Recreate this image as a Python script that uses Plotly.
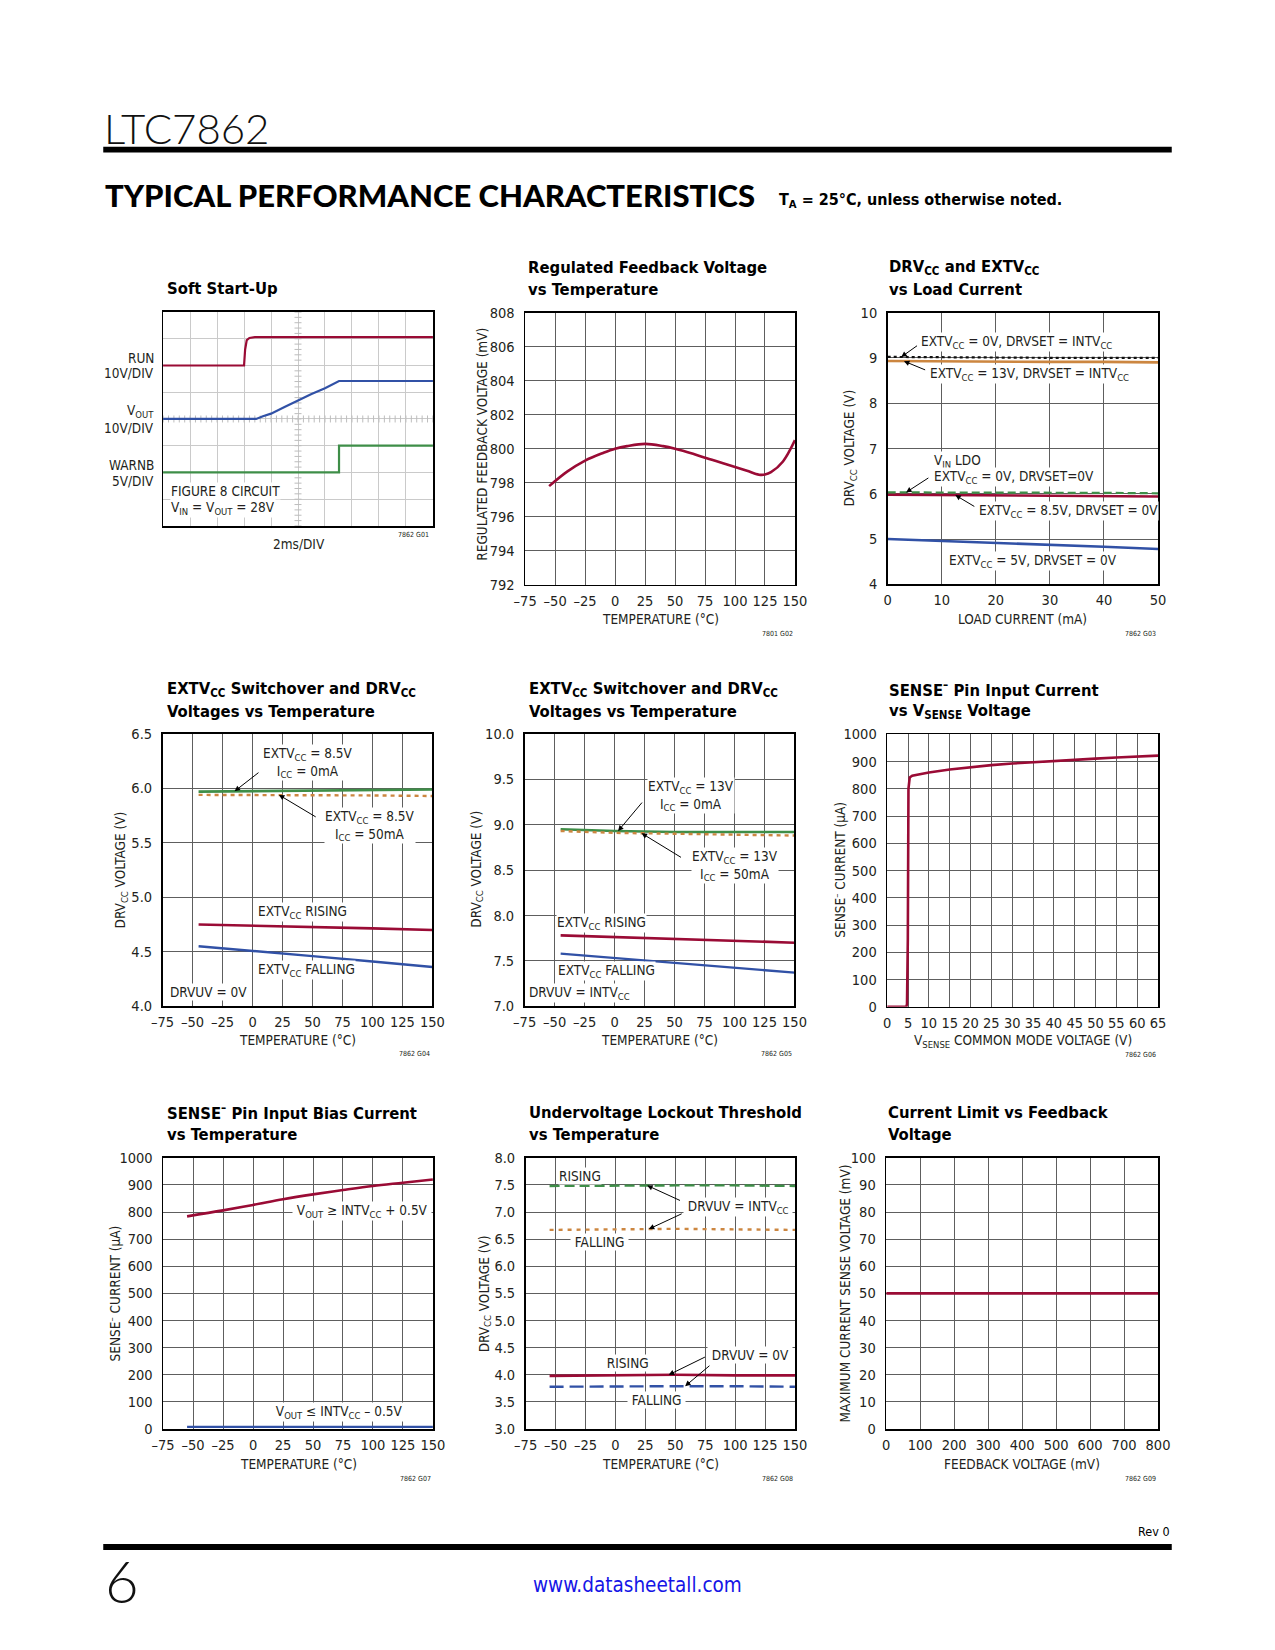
import numpy as np
import plotly.graph_objects as go

W, H = 1275, 1650


def px(x):
    return x / W


def py(y):
    return 1 - y / H


RED = "#9A0B35"
BLUE = "#3151A6"
GREEN = "#3E8E48"
ORANGE = "#CC8640"
BLACK = "#111111"
GRID = "#5e5e5e"
SCOPE_GRID = "#cacaca"
TXT = "#231f20"
FONT = "Liberation Sans Narrow, DejaVu Sans Condensed, Arial Narrow, Liberation Sans, sans-serif"

# ---------------- data ----------------
# G01 Soft Start-Up (scope divisions)
run_t = [0, 3.0, 3.04, 3.1, 3.2, 3.4, 10]
run_v = [6.0, 6.0, 6.6, 6.95, 7.03, 7.06, 7.06]
vout_t = [0, 3.45, 3.7, 4.0, 4.5, 5.0, 5.5, 6.0, 6.52, 10]
vout_v = [4.0, 4.0, 4.1, 4.2, 4.45, 4.7, 4.93, 5.15, 5.42, 5.42]
warnb_t = [0, 6.52, 6.52, 10]
warnb_v = [2.0, 2.0, 3.0, 3.0]

# G02 Regulated feedback voltage vs temperature
fb_temp = [-55, -40, -25, -10, 0, 10, 25, 40, 50, 65, 75, 90, 100, 110, 120, 125, 130, 140, 150]
fb_mv = [797.8, 798.65, 799.3, 799.75, 800.0, 800.15, 800.28, 800.15, 800.0, 799.7, 799.47,
         799.15, 798.93, 798.7, 798.47, 798.48, 798.62, 799.25, 800.5]

# G03 DRVcc vs load current
load_ma = [0, 10, 20, 30, 40, 50]
g03_ext0_int = [9.02, 9.01, 9.01, 9.0, 9.0, 9.0]
g03_ext13_int = [8.93, 8.92, 8.92, 8.91, 8.91, 8.9]
g03_vin_ldo = [6.03, 6.03, 6.02, 6.02, 6.02, 6.01]
g03_ext85 = [5.98, 5.97, 5.97, 5.96, 5.95, 5.94]
g03_ext5 = [5.0, 4.96, 4.91, 4.87, 4.83, 4.78]

# G04 EXTVcc switchover (DRVUV = 0V)
g04_temp = [-45, 0, 50, 100, 150]
g04_icc0 = [5.97, 5.975, 5.98, 5.985, 5.99]
g04_icc50 = [5.94, 5.94, 5.94, 5.935, 5.93]
g04_rise = [4.75, 4.74, 4.73, 4.715, 4.70]
g04_fall = [4.55, 4.51, 4.46, 4.41, 4.36]

# G05 EXTVcc switchover (DRVUV = INTVcc)
g05_temp = [-45, 0, 50, 100, 150]
g05_icc0 = [8.95, 8.93, 8.92, 8.92, 8.92]
g05_icc50 = [8.93, 8.91, 8.90, 8.89, 8.88]
g05_rise = [7.78, 7.76, 7.74, 7.72, 7.70]
g05_fall = [7.58, 7.53, 7.48, 7.42, 7.37]

# G06 SENSE- current vs Vsense
vsense = [0, 4.6, 4.75, 4.95, 5.1, 5.4, 6, 8, 10, 15, 20, 25, 30, 35, 40, 45, 50, 55, 60, 65]
isense = [0, 0, 10, 250, 800, 842, 848, 854, 860, 871, 880, 887, 893, 898, 903, 907, 911, 915, 918, 922]

# G07 SENSE- bias current vs temperature
g07_temp = [-55, -25, 0, 25, 50, 75, 100, 125, 150]
g07_high = [784, 806, 826, 847, 865, 881, 896, 908, 920]
g07_low = [8, 8, 8, 8, 8, 8, 8, 8, 8]

# G08 UVLO vs temperature
g08_temp = [-55, 0, 50, 100, 150]
g08_int_rise = [7.48, 7.49, 7.49, 7.49, 7.48]
g08_int_fall = [6.67, 6.68, 6.69, 6.68, 6.67]
g08_0_rise = [3.98, 3.99, 4.0, 3.99, 3.99]
g08_0_fall = [3.78, 3.79, 3.79, 3.79, 3.78]

# G09 current limit vs feedback voltage
fbv_mv = [0, 800]
ilim_mv = [50, 50]

# tick values / labels
TEMP_TICKS = [-75, -50, -25, 0, 25, 50, 75, 100, 125, 150]
TEMP_LABELS = ["–75", "–50", "–25", "0", "25", "50", "75", "100", "125", "150"]
G02_Y = [792, 794, 796, 798, 800, 802, 804, 806, 808]
G03_X = [0, 10, 20, 30, 40, 50]
G03_Y = [4, 5, 6, 7, 8, 9, 10]
G04_Y = [4.0, 4.5, 5.0, 5.5, 6.0, 6.5]
G05_Y = [7.0, 7.5, 8.0, 8.5, 9.0, 9.5, 10.0]
G06_X = [0, 5, 10, 15, 20, 25, 30, 35, 40, 45, 50, 55, 60, 65]
CUR_Y = [0, 100, 200, 300, 400, 500, 600, 700, 800, 900, 1000]
G08_Y = [3.0, 3.5, 4.0, 4.5, 5.0, 5.5, 6.0, 6.5, 7.0, 7.5, 8.0]
G09_X = [0, 100, 200, 300, 400, 500, 600, 700, 800]
G09_Y = [0, 10, 20, 30, 40, 50, 60, 70, 80, 90, 100]
SCOPE_X = list(range(0, 11))
SCOPE_Y = list(range(0, 9))

fig = go.Figure()
axes = {}
annotations = []
shapes = []

LBL = 13.5   # annotation label size
TSZ = 16.5   # chart title size


def refs(i):
    return ("x", "y") if i == 1 else (f"x{i}", f"y{i}")


def setup(i, xpx, ypx, xrange, yrange, xticks, xlabels, yticks, ylabels,
          gridcolor=GRID, showlabels=True):
    xr, yr = refs(i)
    xn = "xaxis" if i == 1 else f"xaxis{i}"
    yn = "yaxis" if i == 1 else f"yaxis{i}"
    common = dict(showline=True, linecolor="black", linewidth=1.6, mirror=True,
                  zeroline=False, showgrid=True, gridcolor=gridcolor, gridwidth=1,
                  ticks="", fixedrange=True, showticklabels=showlabels,
                  tickfont=dict(family=FONT, size=14.5, color=TXT), tickmode="array")
    axes[xn] = dict(common, domain=[px(xpx[0]), px(xpx[1])], range=xrange,
                    tickvals=xticks, ticktext=xlabels, anchor=yr, ticklabelstandoff=2)
    axes[yn] = dict(common, domain=[py(ypx[1]), py(ypx[0])], range=yrange,
                    tickvals=yticks, ticktext=ylabels, anchor=xr, ticklabelstandoff=6)


def line(i, x, y, color, width=2.6, dash="solid", shape="linear"):
    xr, yr = refs(i)
    fig.add_trace(go.Scatter(x=x, y=y, xaxis=xr, yaxis=yr, mode="lines",
                             line=dict(color=color, width=width, dash=dash, shape=shape),
                             showlegend=False, hoverinfo="skip"))


def txt(s, x, y, size=LBL, xanchor="left", yanchor="middle", bg=None, angle=0,
        color=TXT, family=FONT, weight=None):
    f = dict(family=family, size=size, color=color)
    if weight:
        f["weight"] = weight
    d = dict(text=s, x=px(x), y=py(y), xref="paper", yref="paper", xanchor=xanchor,
             yanchor=yanchor, showarrow=False, textangle=angle, font=f)
    if bg:
        d["bgcolor"] = bg
        d["borderpad"] = 0
    annotations.append(d)


def arrow(i, hx, sx, sy, tx, ty):
    xr, yr = refs(i)
    hy = float(np.interp(hx, sx, sy))
    annotations.append(dict(x=hx, y=hy, xref=xr, yref=yr, ax=tx, ay=ty, axref=xr, ayref=yr,
                            text="", showarrow=True, arrowhead=2, arrowsize=1.1,
                            arrowwidth=1, arrowcolor="black", standoff=0,
                            font=dict(family=FONT, size=LBL, color=TXT)))


def title(lines, x, ys):
    for s, y in zip(lines, ys):
        txt(f"<b>{s}</b>", x, y, size=TSZ, color="#000000")


def fmt1(v):
    return [f"{t:.1f}" for t in v]


def fmt0(v):
    return [str(t) for t in v]


# ---------- G01 scope ----------
setup(1, (154, 429), (307, 523), [0, 10], [0, 8], SCOPE_X, [""] * len(SCOPE_X),
      SCOPE_Y, [""] * len(SCOPE_Y), gridcolor=SCOPE_GRID, showlabels=False)
tick_x = np.arange(0, 10.01, 0.2)
tick_y = np.arange(0, 8.01, 0.2)
fig.add_trace(go.Scatter(x=tick_x, y=[4] * len(tick_x), mode="markers", xaxis="x", yaxis="y",
                         marker=dict(symbol="line-ns", size=5, line=dict(color="#bdbdbd", width=1)),
                         showlegend=False, hoverinfo="skip"))
fig.add_trace(go.Scatter(x=[5] * len(tick_y), y=tick_y, mode="markers", xaxis="x", yaxis="y",
                         marker=dict(symbol="line-ew", size=5, line=dict(color="#bdbdbd", width=1)),
                         showlegend=False, hoverinfo="skip"))
line(1, run_t, run_v, RED, 2.2)
line(1, vout_t, vout_v, BLUE, 2.2)
line(1, warnb_t, warnb_v, GREEN, 2.2)
title(["Soft Start-Up"], 156, [283])
txt("RUN", 147, 353, xanchor="right")
txt("10V/DIV", 147, 369, xanchor="right")
txt("V<sub>OUT</sub>", 147, 407, xanchor="right")
txt("10V/DIV", 147, 424, xanchor="right")
txt("WARNB", 147, 461, xanchor="right")
txt("5V/DIV", 147, 478, xanchor="right")
txt("FIGURE 8 CIRCUIT", 161, 488, bg="white")
txt("V<sub>IN</sub> = V<sub>OUT</sub> = 28V", 161, 505, bg="white")
txt("2ms/DIV", 292, 541, xanchor="center")
txt("7862 G01", 427, 532, size=7, xanchor="right")

# ---------- G02 ----------
setup(2, (523, 798), (307.5, 582.5), [-75, 150], [792, 808], TEMP_TICKS, TEMP_LABELS,
      G02_Y, fmt0(G02_Y))
line(2, fb_temp, fb_mv, RED, 2.6, shape="spline")
title(["Regulated Feedback Voltage", "vs Temperature"], 524, [262, 284])
txt("TEMPERATURE (°C)", 660.5, 617, xanchor="center")
txt("REGULATED FEEDBACK VOLTAGE (mV)", 479, 440, xanchor="center", angle=-90)
txt("7801 G02", 798, 632, size=7, xanchor="right")

# ---------- G03 ----------
setup(3, (892.5, 1168), (307.5, 582), [0, 50], [4, 10], G03_X, fmt0(G03_X),
      G03_Y, fmt0(G03_Y))
line(3, load_ma, g03_ext13_int, ORANGE, 2.6)
line(3, load_ma, g03_ext0_int, BLACK, 2.2, dash="dot")
line(3, load_ma, g03_ext85, RED, 2.6)
line(3, load_ma, g03_vin_ldo, GREEN, 2.2, dash="8px,4px")
line(3, load_ma, g03_ext5, BLUE, 2.6)
title(["DRV<sub>CC</sub> and EXTV<sub>CC</sub>", "vs Load Current"], 892, [262, 284])
txt("LOAD CURRENT (mA)", 1030, 617, xanchor="center")
txt("DRV<sub>CC</sub> VOLTAGE (V)", 854, 444, xanchor="center", angle=-90)
txt("7862 G03", 1168, 632, size=7, xanchor="right")
txt("EXTV<sub>CC</sub> = 0V, DRVSET = INTV<sub>CC</sub>", 925, 337, bg="white")
txt("EXTV<sub>CC</sub> = 13V, DRVSET = INTV<sub>CC</sub>", 935, 370, bg="white")
txt("V<sub>IN</sub> LDO", 939, 457, bg="white")
txt("EXTV<sub>CC</sub> = 0V, DRVSET=0V", 939, 474, bg="white")
txt("EXTV<sub>CC</sub> = 8.5V, DRVSET = 0V", 985, 508, bg="white")
txt("EXTV<sub>CC</sub> = 5V, DRVSET = 0V", 954, 558, bg="white")
arrow(3, 2.5, load_ma, g03_ext0_int, 5.7, 9.29)
arrow(3, 3.0, load_ma, g03_ext13_int, 7.2, 8.72)
arrow(3, 3.4, load_ma, g03_vin_ldo, 7.8, 6.37)
arrow(3, 12.5, load_ma, g03_ext85, 16.3, 5.70)

# ---------- G04 ----------
setup(4, (153.5, 428.5), (733, 1008), [-75, 150], [4.0, 6.5], TEMP_TICKS, TEMP_LABELS,
      G04_Y, fmt1(G04_Y))
line(4, g04_temp, g04_icc0, GREEN, 2.6)
line(4, g04_temp, g04_icc50, ORANGE, 2.4, dash="4px,4px")
line(4, g04_temp, g04_rise, RED, 2.6)
line(4, g04_temp, g04_fall, BLUE, 2.4)
title(["EXTV<sub>CC</sub> Switchover and DRV<sub>CC</sub>", "Voltages vs Temperature"], 156, [688, 710])
txt("TEMPERATURE (°C)", 291, 1042, xanchor="center")
txt("DRV<sub>CC</sub> VOLTAGE (V)", 111, 870, xanchor="center", angle=-90)
txt("7862 G04", 428.5, 1056, size=7, xanchor="right")
txt("EXTV<sub>CC</sub> = 8.5V<br>I<sub>CC</sub> = 0mA", 255, 762, bg="white")
txt("EXTV<sub>CC</sub> = 8.5V<br>I<sub>CC</sub> = 50mA", 318, 825, bg="white")
txt("EXTV<sub>CC</sub> RISING", 250, 913, bg="white")
txt("EXTV<sub>CC</sub> FALLING", 250, 971, bg="white")
txt("DRVUV = 0V", 160, 994, bg="white")
arrow(4, -15, g04_temp, g04_icc0, 6.2, 6.155)
arrow(4, 22, g04_temp, g04_icc50, 53.9, 5.73)

# ---------- G05 ----------
setup(5, (522.5, 797.5), (733, 1008), [-75, 150], [7.0, 10.0], TEMP_TICKS, TEMP_LABELS,
      G05_Y, fmt1(G05_Y))
line(5, g05_temp, g05_icc0, GREEN, 2.6)
line(5, g05_temp, g05_icc50, ORANGE, 2.4, dash="4px,4px")
line(5, g05_temp, g05_rise, RED, 2.6)
line(5, g05_temp, g05_fall, BLUE, 2.4)
title(["EXTV<sub>CC</sub> Switchover and DRV<sub>CC</sub>", "Voltages vs Temperature"], 525, [688, 710])
txt("TEMPERATURE (°C)", 660, 1042, xanchor="center")
txt("DRV<sub>CC</sub> VOLTAGE (V)", 473, 870, xanchor="center", angle=-90)
txt("7862 G05", 797.5, 1056, size=7, xanchor="right")
txt("EXTV<sub>CC</sub> = 13V<br>I<sub>CC</sub> = 0mA", 647, 795, bg="white")
txt("EXTV<sub>CC</sub> = 13V<br>I<sub>CC</sub> = 50mA", 692, 866, bg="white")
txt("EXTV<sub>CC</sub> RISING", 554, 924, bg="white")
txt("EXTV<sub>CC</sub> FALLING", 555, 972, bg="white")
txt("DRVUV = INTV<sub>CC</sub>", 526, 995, bg="white")
arrow(5, 2.9, g05_temp, g05_icc0, 23.9, 9.26)
arrow(5, 22.5, g05_temp, g05_icc50, 56.6, 8.63)

# ---------- G06 ----------
setup(6, (892, 1168), (733.5, 1008.5), [0, 65], [0, 1000], G06_X, fmt0(G06_X),
      CUR_Y, fmt0(CUR_Y))
line(6, vsense, isense, RED, 2.6)
title(["SENSE<sup>–</sup> Pin Input Current", "vs V<sub>SENSE</sub> Voltage"], 892, [688, 710])
txt("V<sub>SENSE</sub> COMMON MODE VOLTAGE (V)", 1030, 1043, xanchor="center")
txt("SENSE<sup>–</sup> CURRENT (µA)", 843, 870, xanchor="center", angle=-90)
txt("7862 G06", 1168, 1057, size=7, xanchor="right")

# ---------- G07 ----------
setup(7, (154, 429), (1161, 1435), [-75, 150], [0, 1000], TEMP_TICKS, TEMP_LABELS,
      CUR_Y, fmt0(CUR_Y))
line(7, g07_temp, g07_high, RED, 2.6, shape="spline")
line(7, g07_temp, g07_low, BLUE, 2.4)
title(["SENSE<sup>–</sup> Pin Input Bias Current", "vs Temperature"], 156, [1115, 1138])
txt("TEMPERATURE (°C)", 291.5, 1470, xanchor="center")
txt("SENSE<sup>–</sup> CURRENT (µA)", 105, 1298, xanchor="center", angle=-90)
txt("7862 G07", 429, 1485, size=7, xanchor="right")
txt(" V<sub>OUT</sub> ≥ INTV<sub>CC</sub> + 0.5V ", 285, 1215, bg="white")
txt(" V<sub>OUT</sub> ≤ INTV<sub>CC</sub> – 0.5V ", 264, 1418, bg="white")

# ---------- G08 ----------
setup(8, (523.5, 798), (1161, 1435), [-75, 150], [3.0, 8.0], TEMP_TICKS, TEMP_LABELS,
      G08_Y, fmt1(G08_Y))
line(8, g08_temp, g08_int_rise, GREEN, 2.4, dash="10px,5px")
line(8, g08_temp, g08_int_fall, ORANGE, 2.4, dash="4px,5px")
line(8, g08_temp, g08_0_rise, RED, 2.6)
line(8, g08_temp, g08_0_fall, BLUE, 2.4, dash="14px,6px")
title(["Undervoltage Lockout Threshold", "vs Temperature"], 525, [1115, 1138])
txt("TEMPERATURE (°C)", 660.7, 1470, xanchor="center")
txt("DRV<sub>CC</sub> VOLTAGE (V)", 482, 1298, xanchor="center", angle=-90)
txt("7862 G08", 798, 1485, size=7, xanchor="right")
txt("RISING", 556, 1179, bg="white")
txt(" DRVUV = INTV<sub>CC</sub> ", 684, 1211, bg="white")
txt(" FALLING ", 569, 1246, bg="white")
txt(" RISING ", 601, 1368, bg="white")
txt(" DRVUV = 0V ", 708, 1360, bg="white")
txt(" FALLING ", 627, 1406, bg="white")
arrow(8, 26.5, g08_temp, g08_int_rise, 55.2, 7.20)
arrow(8, 27.9, g08_temp, g08_int_fall, 56.6, 6.98)
arrow(8, 44.5, g08_temp, g08_0_rise, 76.0, 4.34)
arrow(8, 58.2, g08_temp, g08_0_fall, 79.8, 4.19)

# ---------- G09 ----------
setup(9, (891, 1168), (1161, 1435), [0, 800], [0, 100], G09_X, fmt0(G09_X),
      G09_Y, fmt0(G09_Y))
line(9, fbv_mv, ilim_mv, RED, 2.6)
title(["Current Limit vs Feedback", "Voltage"], 891, [1115, 1138])
txt("FEEDBACK VOLTAGE (mV)", 1029.5, 1470, xanchor="center")
txt("MAXIMUM CURRENT SENSE VOLTAGE (mV)", 849, 1298, xanchor="center", angle=-90)
txt("7862 G09", 1168, 1485, size=7, xanchor="right")

# ---------- page header / footer ----------
txt("LTC7862", 92, 121, size=42, family="Lato, DejaVu Sans, sans-serif", color="#111111",
    weight=300)
shapes.append(dict(type="rect", xref="paper", yref="paper", x0=px(93), x1=px(1182),
                   y0=py(146), y1=py(140), fillcolor="black", line=dict(width=0)))
txt("TYPICAL PERFORMANCE CHARACTERISTICS", 93, 189, size=31,
    family="Lato, Roboto, DejaVu Sans, sans-serif", color="#000000", weight=900)
txt("<b>T<sub>A</sub> = 25°C, unless otherwise noted.</b>", 780, 194, size=16, color="#000000")
txt("Rev 0", 1182, 1538, size=12.5, xanchor="right", color="#000000")
shapes.append(dict(type="rect", xref="paper", yref="paper", x0=px(93), x1=px(1182),
                   y0=py(1557), y1=py(1551), fillcolor="black", line=dict(width=0)))
txt("6", 93, 1588, size=58, family="Lato, DejaVu Sans, sans-serif", color="#111111",
    weight=300)
txt("www.datasheetall.com", 638, 1592, size=20.5, xanchor="center", color="#1515E6")

fig.update_layout(width=W, height=H, autosize=False, margin=dict(l=0, r=0, t=0, b=0),
                  paper_bgcolor="white", plot_bgcolor="white", showlegend=False,
                  font=dict(family=FONT, size=14, color=TXT),
                  annotations=annotations, shapes=shapes, **axes)

fig.write_html("out.html", config={"displayModeBar": False, "staticPlot": True},
               post_script="document.body.style.margin='0px';"
                           "document.body.style.overflow='hidden';")
